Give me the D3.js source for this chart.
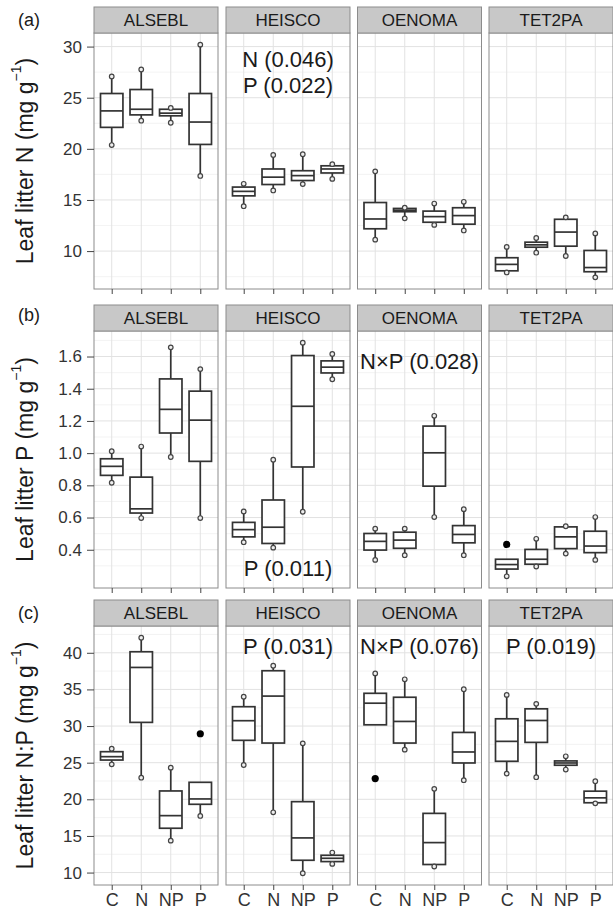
<!DOCTYPE html>
<html>
<head>
<meta charset="utf-8">
<title>Leaf litter N, P and N:P</title>
<script src="https://cdn.jsdelivr.net/npm/d3@7"></script>
<style>
    body { margin: 0; background: #fff; }
    svg text { font-family: "Liberation Sans", Arial, Helvetica, sans-serif; fill: #1a1a1a; }
    .grid-major { stroke: #e2e2e2; stroke-width: 1; }
    .grid-minor { stroke: #f0f0f0; stroke-width: 0.8; }
    .frame { fill: none; stroke: #8c8c8c; stroke-width: 1; }
    .strip { fill: #c8c8c8; stroke: #8c8c8c; stroke-width: 1; }
    .box { fill: #fff; stroke: #333; stroke-width: 1.7; }
    .whisker, .median { stroke: #333; stroke-width: 1.7; }
    .tip { fill: #eee; stroke: #444; stroke-width: 1.2; }
    .outlier { fill: #000; }
    .axis line { stroke: #444; }
    .axis text { fill: #333; }
</style>
</head>
<body>
<svg id="chart" width="613" height="916"></svg>
<script>
// ---- data ----
const species = ["ALSEBL", "HEISCO", "OENOMA", "TET2PA"];
const treatments = ["C", "N", "NP", "P"];

// one row per species, one box per treatment (C, N, NP, P):
// [lower whisker, Q1, median, Q3, upper whisker]
const litterN = [
    [[20.37, 22.10, 23.71, 25.41, 27.08], [22.75, 23.32, 23.87, 25.80, 27.76], [22.55, 23.23, 23.49, 23.87, 24.00], [17.35, 20.43, 22.62, 25.41, 30.19]],
    [[14.39, 15.40, 15.84, 16.26, 16.58], [15.93, 16.51, 17.23, 18.03, 19.40], [16.55, 16.90, 17.38, 17.86, 19.47], [17.06, 17.64, 18.03, 18.34, 18.50]],
    [[11.12, 12.18, 13.14, 14.75, 17.80], [13.20, 13.85, 14.00, 14.17, 14.24], [12.56, 12.82, 13.37, 13.91, 14.65], [12.02, 12.63, 13.47, 14.24, 14.82]],
    [[7.91, 8.07, 8.70, 9.35, 10.41], [9.84, 10.38, 10.61, 10.87, 11.28], [9.52, 10.48, 11.86, 13.11, 13.30], [7.43, 7.98, 8.39, 10.06, 11.73]]
];
const litterP = [
    [[0.816, 0.862, 0.918, 0.965, 1.012], [0.597, 0.628, 0.654, 0.851, 1.041], [0.976, 1.125, 1.272, 1.461, 1.657], [0.597, 0.949, 1.205, 1.385, 1.522]],
    [[0.447, 0.480, 0.525, 0.570, 0.638], [0.413, 0.439, 0.540, 0.709, 0.959], [0.636, 0.914, 1.291, 1.606, 1.686], [1.459, 1.498, 1.534, 1.573, 1.616]],
    [[0.337, 0.398, 0.452, 0.501, 0.531], [0.366, 0.409, 0.460, 0.509, 0.531], [0.603, 0.795, 1.002, 1.168, 1.232], [0.366, 0.443, 0.495, 0.550, 0.652]],
    [[0.235, 0.280, 0.308, 0.341, 0.341], [0.296, 0.310, 0.341, 0.402, 0.468], [0.376, 0.407, 0.480, 0.542, 0.546], [0.337, 0.382, 0.423, 0.515, 0.603]]
];
const litterNP = [
    [[24.77, 25.36, 25.82, 26.50, 26.91], [22.95, 30.50, 38.00, 40.14, 42.05], [14.36, 16.05, 17.77, 21.14, 24.32], [17.73, 19.32, 20.05, 22.32, 22.32]],
    [[24.68, 28.05, 30.73, 32.64, 34.00], [18.23, 27.68, 34.09, 37.55, 38.23], [9.91, 11.68, 14.73, 19.68, 27.64], [11.18, 11.50, 11.95, 12.36, 12.73]],
    [[30.17, 30.17, 33.12, 34.47, 37.19], [26.78, 27.68, 30.63, 33.93, 36.38], [10.83, 11.10, 14.09, 18.08, 21.43], [22.61, 24.96, 26.46, 29.13, 35.02]],
    [[23.51, 25.19, 27.91, 30.99, 34.25], [23.02, 27.77, 30.76, 32.35, 33.03], [24.06, 24.65, 24.96, 25.24, 25.87], [19.45, 19.53, 20.20, 21.11, 22.47]]
];

// outliers: [species, treatment, value]
const outliersN = [];
const outliersP = [["TET2PA", "C", 0.433]];
const outliersNP = [["ALSEBL", "P", 28.95], ["OENOMA", "C", 22.83]];

const ticksN = [10, 15, 20, 25, 30];
const ticksP = [0.4, 0.6, 0.8, 1.0, 1.2, 1.4, 1.6];
const ticksNP = [10, 15, 20, 25, 30, 35, 40];

// significance notes: [species, text, value at which the text is centred]
const notesN = [["HEISCO", "N (0.046)", 28.75], ["HEISCO", "P (0.022)", 26.15]];
const notesP = [["HEISCO", "P (0.011)", 0.281], ["OENOMA", "N\u00d7P (0.028)", 1.569]];
const notesNP = [["HEISCO", "P (0.031)", 40.8], ["OENOMA", "N\u00d7P (0.076)", 40.8], ["TET2PA", "P (0.019)", 40.8]];

// ---- layout ----
const facetLeft = [94, 226, 357.5, 489];
const facetWidth = 124;
const rows = [
    { tag: "(a)", tagY: 20, title: "Leaf litter N", stats: litterN, outliers: outliersN, ticks: ticksN, notes: notesN, fmt: d3.format("d"), stripTop: 7, top: 33, bottom: 289 },
    { tag: "(b)", tagY: 315, title: "Leaf litter P", stats: litterP, outliers: outliersP, ticks: ticksP, notes: notesP, fmt: d3.format(".1f"), stripTop: 305, top: 331, bottom: 588 },
    { tag: "(c)", tagY: 613, title: "Leaf litter N:P", stats: litterNP, outliers: outliersNP, ticks: ticksNP, notes: notesNP, fmt: d3.format("d"), stripTop: 600, top: 626, bottom: 885 }
];

const svg = d3.select("#chart");

rows.forEach(function (row, ri) {
    // ggplot-style 5% expansion of the data range
    var all = row.stats.flat(2).concat(row.outliers.map(function (o) { return o[2]; }));
    var ext = d3.extent(all), pad = (ext[1] - ext[0]) * 0.05;
    var y = d3.scaleLinear().domain([ext[0] - pad, ext[1] + pad]).range([row.bottom, row.top]);

    var step = row.ticks[1] - row.ticks[0];
    var minor = [row.ticks[0] - step / 2].concat(row.ticks.map(function (t) { return t + step / 2; }))
        .filter(function (v) { return v > y.domain()[0] && v < y.domain()[1]; });

    species.forEach(function (sp, si) {
        var x0 = facetLeft[si];
        var x = d3.scalePoint().domain(treatments).range([x0, x0 + facetWidth]).padding(0.6);
        var bw = x.step() * 0.76;
        var g = svg.append("g");

        g.append("rect").attr("x", x0).attr("y", row.top)
            .attr("width", facetWidth).attr("height", row.bottom - row.top).attr("fill", "#fff");

        g.selectAll(".grid-minor").data(minor).enter().append("line")
            .attr("class", "grid-minor")
            .attr("x1", x0).attr("x2", x0 + facetWidth)
            .attr("y1", function (d) { return y(d); }).attr("y2", function (d) { return y(d); });
        g.selectAll(".grid-h").data(row.ticks).enter().append("line")
            .attr("class", "grid-major grid-h")
            .attr("x1", x0).attr("x2", x0 + facetWidth)
            .attr("y1", function (d) { return y(d); }).attr("y2", function (d) { return y(d); });
        g.selectAll(".grid-v").data(treatments).enter().append("line")
            .attr("class", "grid-major grid-v")
            .attr("x1", function (d) { return x(d); }).attr("x2", function (d) { return x(d); })
            .attr("y1", row.top).attr("y2", row.bottom);

        // boxes
        var boxes = g.selectAll(".bp").data(row.stats[si]).enter().append("g").attr("class", "bp");
        boxes.append("line").attr("class", "whisker")
            .attr("x1", function (d, i) { return x(treatments[i]); }).attr("x2", function (d, i) { return x(treatments[i]); })
            .attr("y1", function (d) { return y(d[0]); }).attr("y2", function (d) { return y(d[1]); });
        boxes.append("line").attr("class", "whisker")
            .attr("x1", function (d, i) { return x(treatments[i]); }).attr("x2", function (d, i) { return x(treatments[i]); })
            .attr("y1", function (d) { return y(d[3]); }).attr("y2", function (d) { return y(d[4]); });
        boxes.append("rect").attr("class", "box")
            .attr("x", function (d, i) { return x(treatments[i]) - bw / 2; })
            .attr("y", function (d) { return y(d[3]); })
            .attr("width", bw)
            .attr("height", function (d) { return y(d[1]) - y(d[3]); });
        boxes.append("line").attr("class", "median")
            .attr("x1", function (d, i) { return x(treatments[i]) - bw / 2; })
            .attr("x2", function (d, i) { return x(treatments[i]) + bw / 2; })
            .attr("y1", function (d) { return y(d[2]); }).attr("y2", function (d) { return y(d[2]); });
        // small open circles at the whisker ends
        boxes.each(function (d, i) {
            var b = d3.select(this);
            if (d[0] < d[1]) b.append("circle").attr("class", "tip").attr("cx", x(treatments[i])).attr("cy", y(d[0])).attr("r", 2.3);
            if (d[4] > d[3]) b.append("circle").attr("class", "tip").attr("cx", x(treatments[i])).attr("cy", y(d[4])).attr("r", 2.3);
        });

        g.selectAll(".outlier").data(row.outliers.filter(function (o) { return o[0] === sp; }))
            .enter().append("circle").attr("class", "outlier")
            .attr("cx", function (d) { return x(d[1]); }).attr("cy", function (d) { return y(d[2]); })
            .attr("r", 3.6);

        g.selectAll(".note").data(row.notes.filter(function (n) { return n[0] === sp; }))
            .enter().append("text").attr("class", "note")
            .attr("x", x0 + facetWidth / 2).attr("y", function (d) { return y(d[2]); })
            .attr("text-anchor", "middle").attr("dominant-baseline", "central")
            .style("font-size", "22px")
            .text(function (d) { return d[1]; });

        g.append("rect").attr("class", "frame").attr("x", x0).attr("y", row.top)
            .attr("width", facetWidth).attr("height", row.bottom - row.top);

        // strip
        g.append("rect").attr("class", "strip").attr("x", x0).attr("y", row.stripTop)
            .attr("width", facetWidth).attr("height", row.top - row.stripTop);
        g.append("text").attr("x", x0 + facetWidth / 2).attr("y", (row.stripTop + row.top) / 2)
            .attr("text-anchor", "middle").attr("dominant-baseline", "central")
            .style("font-size", "17px").text(sp);

        // x ticks under every facet, labels only on the bottom row
        var xAxis = g.append("g").attr("class", "axis")
            .attr("transform", "translate(0," + row.bottom + ")")
            .call(d3.axisBottom(x).tickSize(5).tickPadding(3)
                .tickFormat(ri === rows.length - 1 ? null : function () { return ""; }));
        xAxis.select(".domain").remove();
        xAxis.selectAll("text").style("font-size", "18px").attr("fill", "#1a1a1a");

        if (si === 0) {
            var yAxis = g.append("g").attr("class", "axis")
                .attr("transform", "translate(" + x0 + ",0)")
                .call(d3.axisLeft(y).tickValues(row.ticks).tickFormat(row.fmt).tickSize(7).tickPadding(5));
            yAxis.select(".domain").remove();
            yAxis.selectAll("text").style("font-size", "17px");
        }
    });

    // y title with superscript unit
    var t = svg.append("text")
        .attr("transform", "translate(25," + (row.top + row.bottom) / 2 + ") rotate(-90)")
        .attr("text-anchor", "middle").attr("dominant-baseline", "central")
        .style("font-size", "23px");
    t.append("tspan").text(row.title + " (mg g");
    t.append("tspan").attr("dy", -9).style("font-size", "14px").text("\u22121");
    t.append("tspan").attr("dy", 9).text(")");

    svg.append("text").attr("x", 18).attr("y", row.tagY)
        .attr("dominant-baseline", "central").style("font-size", "18px").text(row.tag);
});
</script>
</body>
</html>
